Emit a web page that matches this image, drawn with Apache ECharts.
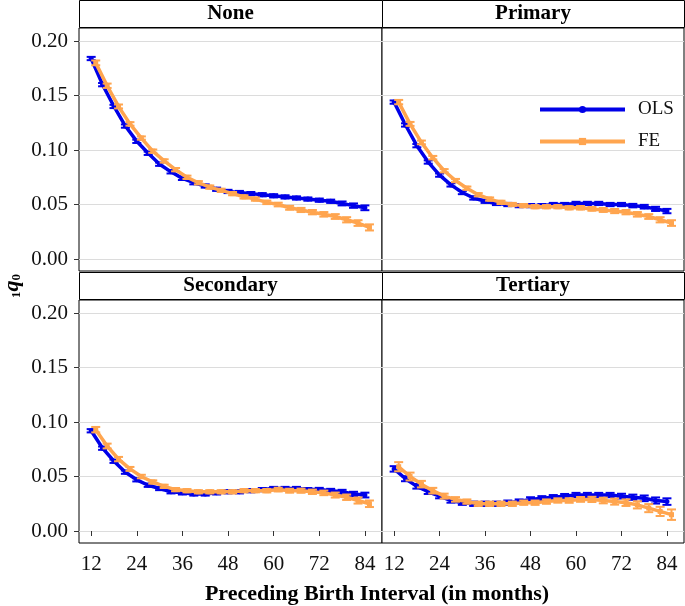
<!DOCTYPE html>
<html>
<head>
<meta charset="utf-8">
<script src="https://cdn.jsdelivr.net/npm/echarts@6.0.0/dist/echarts.min.js"></script>
<style>
  html, body { margin: 0; padding: 0; background: #fff; }
  #chart { width: 685px; height: 606px; }
</style>
</head>
<body>
<div id="chart"></div>
<script>
// preceding birth interval, months
const months = [12, 15, 18, 21, 24, 27, 30, 33, 36, 39, 42, 45, 48, 51, 54, 57, 60, 63, 66, 69, 72, 75, 78, 81, 84];
const xTicks = [12, 24, 36, 48, 60, 72, 84];
const yTicks = [0, 0.05, 0.1, 0.15, 0.2];
const panelNames = ['None', 'Primary', 'Secondary', 'Tertiary'];

// 1q0 estimates and half-widths of the error bars
const noneOls = [0.184, 0.160, 0.140, 0.122, 0.108, 0.097, 0.087, 0.080, 0.074, 0.070, 0.067, 0.064, 0.062, 0.061, 0.060, 0.059, 0.058, 0.057, 0.056, 0.055, 0.054, 0.053, 0.051, 0.049, 0.047];
const noneOlsSe = [0.0015, 0.0015, 0.0015, 0.0015, 0.0015, 0.0015, 0.0015, 0.0015, 0.0015, 0.0015, 0.0015, 0.0015, 0.0015, 0.0015, 0.0015, 0.0015, 0.0015, 0.0015, 0.0015, 0.0015, 0.0015, 0.0015, 0.0018, 0.002, 0.0022];
const noneFe = [0.180, 0.159, 0.140, 0.124, 0.111, 0.099, 0.090, 0.082, 0.075, 0.070, 0.066, 0.063, 0.060, 0.057, 0.055, 0.052, 0.050, 0.047, 0.045, 0.043, 0.041, 0.039, 0.036, 0.033, 0.029];
const noneFeSe = [0.0022, 0.002, 0.0018, 0.0016, 0.0015, 0.0015, 0.0015, 0.0015, 0.0015, 0.0015, 0.0015, 0.0015, 0.0015, 0.0015, 0.0015, 0.0016, 0.0017, 0.0018, 0.0019, 0.002, 0.0021, 0.0022, 0.0024, 0.0026, 0.0028];

const primaryOls = [0.144, 0.123, 0.104, 0.089, 0.077, 0.068, 0.061, 0.056, 0.053, 0.051, 0.050, 0.049, 0.049, 0.049, 0.050, 0.050, 0.051, 0.051, 0.051, 0.050, 0.050, 0.049, 0.048, 0.046, 0.044];
const primaryOlsSe = [0.0015, 0.0015, 0.0015, 0.0015, 0.0015, 0.0015, 0.0015, 0.0015, 0.0015, 0.0015, 0.0015, 0.0015, 0.0015, 0.0015, 0.0015, 0.0015, 0.0015, 0.0015, 0.0015, 0.0015, 0.0015, 0.0016, 0.0017, 0.0019, 0.002];
const primaryFe = [0.144, 0.124, 0.107, 0.093, 0.081, 0.072, 0.065, 0.059, 0.055, 0.052, 0.050, 0.049, 0.048, 0.048, 0.048, 0.047, 0.047, 0.046, 0.045, 0.044, 0.043, 0.041, 0.039, 0.036, 0.033];
const primaryFeSe = [0.002, 0.0018, 0.0017, 0.0016, 0.0015, 0.0015, 0.0015, 0.0015, 0.0015, 0.0015, 0.0015, 0.0015, 0.0015, 0.0015, 0.0015, 0.0015, 0.0016, 0.0017, 0.0018, 0.0019, 0.002, 0.0021, 0.0022, 0.0024, 0.0026];

const secondaryOls = [0.092, 0.076, 0.064, 0.054, 0.047, 0.042, 0.039, 0.036, 0.035, 0.034, 0.034, 0.035, 0.036, 0.036, 0.037, 0.038, 0.039, 0.039, 0.039, 0.038, 0.038, 0.037, 0.036, 0.034, 0.033];
const secondaryOlsSe = [0.0015, 0.0015, 0.0015, 0.0015, 0.0015, 0.0015, 0.0015, 0.0015, 0.0015, 0.0015, 0.0015, 0.0015, 0.0015, 0.0015, 0.0015, 0.0015, 0.0015, 0.0015, 0.0015, 0.0015, 0.0016, 0.0017, 0.0018, 0.002, 0.0022];
const secondaryFe = [0.093, 0.078, 0.066, 0.057, 0.050, 0.045, 0.041, 0.038, 0.037, 0.036, 0.036, 0.036, 0.036, 0.037, 0.037, 0.037, 0.038, 0.037, 0.037, 0.036, 0.035, 0.033, 0.031, 0.028, 0.025];
const secondaryFeSe = [0.0025, 0.0022, 0.002, 0.0018, 0.0016, 0.0015, 0.0015, 0.0015, 0.0015, 0.0015, 0.0015, 0.0015, 0.0015, 0.0015, 0.0015, 0.0016, 0.0017, 0.0018, 0.0019, 0.002, 0.0021, 0.0023, 0.0025, 0.0028, 0.003];

const tertiaryOls = [0.057, 0.048, 0.041, 0.036, 0.032, 0.028, 0.026, 0.025, 0.025, 0.025, 0.026, 0.027, 0.029, 0.030, 0.031, 0.032, 0.033, 0.033, 0.033, 0.033, 0.032, 0.031, 0.030, 0.028, 0.027];
const tertiaryOlsSe = [0.0025, 0.0023, 0.0021, 0.002, 0.002, 0.002, 0.002, 0.002, 0.002, 0.002, 0.002, 0.002, 0.002, 0.002, 0.002, 0.002, 0.002, 0.002, 0.002, 0.002, 0.0022, 0.0024, 0.0026, 0.0028, 0.003];
const tertiaryFe = [0.059, 0.050, 0.043, 0.037, 0.032, 0.029, 0.027, 0.025, 0.025, 0.025, 0.025, 0.026, 0.026, 0.027, 0.028, 0.028, 0.029, 0.029, 0.028, 0.027, 0.026, 0.024, 0.021, 0.018, 0.015];
const tertiaryFeSe = [0.0042, 0.0036, 0.003, 0.0026, 0.0023, 0.0021, 0.002, 0.002, 0.002, 0.002, 0.002, 0.002, 0.002, 0.002, 0.002, 0.0021, 0.0022, 0.0024, 0.0026, 0.0028, 0.003, 0.0033, 0.0037, 0.0042, 0.0048];

const olsByPanel = [noneOls, primaryOls, secondaryOls, tertiaryOls];
const olsSeByPanel = [noneOlsSe, primaryOlsSe, secondaryOlsSe, tertiaryOlsSe];
const feByPanel = [noneFe, primaryFe, secondaryFe, tertiaryFe];
const feSeByPanel = [noneFeSe, primaryFeSe, secondaryFeSe, tertiaryFeSe];

const FONT = 'Liberation Serif, Times New Roman, serif';
const BLUE = '#0000E8';
const ORANGE = '#FFA54F';
const FE_SHIFT = 1.2; // dodge of the FE points

// panel boxes in px: left, top, width, height
const boxes = [
  { left: 79, top: 28, width: 303, height: 243 },
  { left: 382, top: 28, width: 302, height: 243 },
  { left: 79, top: 300, width: 303, height: 243 },
  { left: 382, top: 300, width: 302, height: 243 },
];
const STRIP_H = 28;

const chart = echarts.init(document.getElementById('chart'), null, { renderer: 'canvas' });

const errorBarItem = (color) => (params, api) => {
  const x = api.value(0);
  const lo = api.coord([x, api.value(1)]);
  const hi = api.coord([x, api.value(2)]);
  const cap = 4.5;
  const style = { stroke: color, lineWidth: 2 };
  return {
    type: 'group',
    children: [
      { type: 'line', shape: { x1: lo[0], y1: lo[1], x2: hi[0], y2: hi[1] }, style },
      { type: 'line', shape: { x1: lo[0] - cap, y1: lo[1], x2: lo[0] + cap, y2: lo[1] }, style },
      { type: 'line', shape: { x1: hi[0] - cap, y1: hi[1], x2: hi[0] + cap, y2: hi[1] }, style },
    ],
  };
};

const grids = boxes.map((b) => ({
  left: b.left, top: b.top, width: b.width, height: b.height,
  show: true, borderColor: '#000', borderWidth: 1, backgroundColor: '#fff',
}));

const xAxes = boxes.map((b, i) => ({
  type: 'value', gridIndex: i, min: 8.8, max: 88.5,
  axisLine: { show: false },
  axisTick: { show: i >= 2, length: 5, lineStyle: { color: '#333' }, customValues: xTicks },
  axisLabel: {
    show: i >= 2, customValues: xTicks, margin: 11,
    fontFamily: FONT, fontSize: 21, color: '#111',
  },
  splitLine: { show: false },
}));

const yAxes = boxes.map((b, i) => ({
  type: 'value', gridIndex: i, min: -0.011, max: 0.212,
  axisLine: { show: false },
  axisTick: { show: i % 2 === 0, length: 5, lineStyle: { color: '#333' }, customValues: yTicks },
  axisLabel: {
    show: i % 2 === 0, customValues: yTicks, margin: 11,
    fontFamily: FONT, fontSize: 21, color: '#111',
    formatter: (v) => v.toFixed(2),
  },
  splitLine: { show: true, lineStyle: { color: '#dcdcdc', width: 1 } },
}));

const series = [];
panelNames.forEach((name, i) => {
  const ols = olsByPanel[i], olsSe = olsSeByPanel[i];
  const fe = feByPanel[i], feSe = feSeByPanel[i];
  series.push({
    type: 'custom', name: 'OLS-err', xAxisIndex: i, yAxisIndex: i,
    renderItem: errorBarItem(BLUE), encode: { x: 0, y: [1, 2] }, silent: true, z: 2,
    data: months.map((m, k) => [m, ols[k] - olsSe[k], ols[k] + olsSe[k]]),
  });
  series.push({
    type: 'line', name: 'OLS', xAxisIndex: i, yAxisIndex: i, z: 3,
    data: months.map((m, k) => [m, ols[k]]),
    symbol: 'circle', symbolSize: 5, showSymbol: true,
    lineStyle: { color: BLUE, width: 3.5 }, itemStyle: { color: BLUE },
  });
  series.push({
    type: 'custom', name: 'FE-err', xAxisIndex: i, yAxisIndex: i,
    renderItem: errorBarItem(ORANGE), encode: { x: 0, y: [1, 2] }, silent: true, z: 4,
    data: months.map((m, k) => [m + FE_SHIFT, fe[k] - feSe[k], fe[k] + feSe[k]]),
  });
  series.push({
    type: 'line', name: 'FE', xAxisIndex: i, yAxisIndex: i, z: 5,
    data: months.map((m, k) => [m + FE_SHIFT, fe[k]]),
    symbol: 'rect', symbolSize: 5, showSymbol: true,
    lineStyle: { color: ORANGE, width: 3.5 }, itemStyle: { color: ORANGE },
  });
});

const graphics = [];
boxes.forEach((b, i) => {
  graphics.push({
    type: 'rect', z: 10,
    shape: { x: b.left + 0.5, y: b.top - STRIP_H + 0.5, width: b.width, height: STRIP_H - 1 },
    style: { fill: '#fff', stroke: '#000', lineWidth: 1 },
  });
  graphics.push({
    type: 'text', z: 11,
    x: b.left + b.width / 2, y: b.top - STRIP_H / 2,
    style: {
      text: panelNames[i], fontFamily: FONT, fontSize: 21, fontWeight: 'bold',
      fill: '#000', align: 'center', verticalAlign: 'middle',
    },
  });
});
graphics.push({
  type: 'text', z: 11,
  x: 377, y: 594,
  style: {
    text: 'Preceding Birth Interval (in months)', fontFamily: FONT, fontSize: 22,
    fontWeight: 'bold', fill: '#000', align: 'center', verticalAlign: 'middle',
  },
});
graphics.push({
  type: 'text', z: 11,
  x: 12, y: 286, rotation: Math.PI / 2,
  style: {
    text: '{s|1}{q|q}{s|0}', align: 'center', verticalAlign: 'middle',
    rich: {
      q: { fontFamily: FONT, fontSize: 22, fontStyle: 'italic', fontWeight: 'bold', fill: '#000' },
      s: { fontFamily: FONT, fontSize: 13, fontWeight: 'bold', fill: '#000', padding: [10, 0, 0, 0] },
    },
  },
});

chart.setOption({
  animation: false,
  grid: grids,
  xAxis: xAxes,
  yAxis: yAxes,
  legend: {
    data: ['OLS', 'FE'],
    orient: 'vertical',
    left: 538, top: 100, padding: 0,
    itemWidth: 85, itemHeight: 9, itemGap: 13,
    lineStyle: { width: 4 },
    textStyle: { fontFamily: FONT, fontSize: 19, color: '#111', padding: [0, 0, 0, 8] },
    selectedMode: false,
  },
  series,
  graphic: graphics,
});
</script>
</body>
</html>
